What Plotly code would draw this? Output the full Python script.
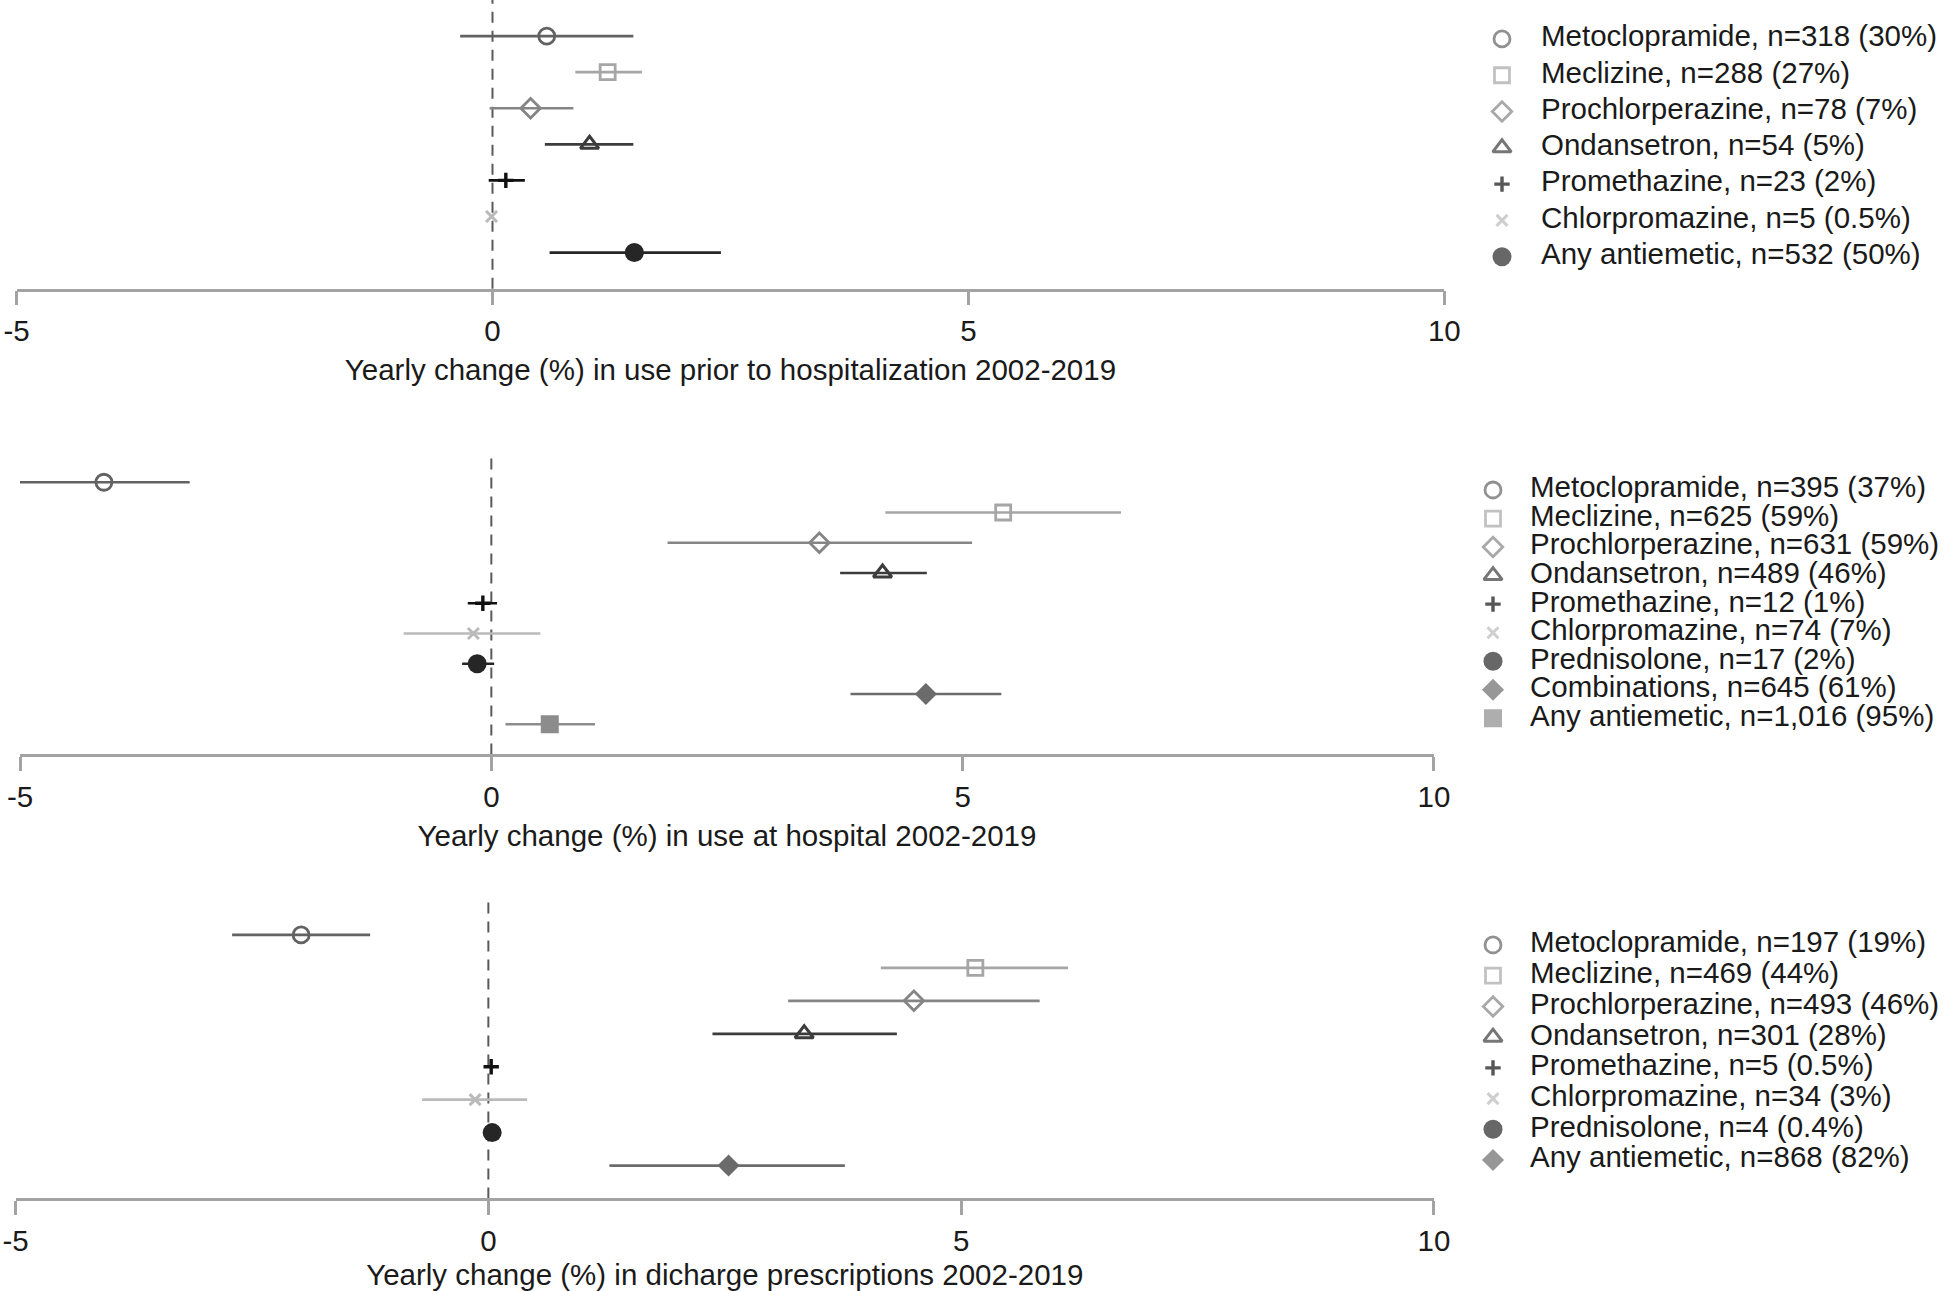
import plotly.graph_objects as go

FONT = "Liberation Sans, Arial, sans-serif"
W, H = 1944, 1291

# ---------------- data ----------------
tick_vals = [-5, 0, 5, 10]
tick_text = ["-5", "0", "5", "10"]

prior_title = "Yearly change (%) in use prior to hospitalization 2002-2019"
prior_labels = ["Metoclopramide, n=318 (30%)", "Meclizine, n=288 (27%)",
                "Prochlorperazine, n=78 (7%)", "Ondansetron, n=54 (5%)",
                "Promethazine, n=23 (2%)", "Chlorpromazine, n=5 (0.5%)",
                "Any antiemetic, n=532 (50%)"]
prior_est = [0.57, 1.21, 0.40, 1.02, 0.14, -0.01, 1.49]
prior_lo = [-0.34, 0.87, -0.03, 0.55, -0.04, -0.03, 0.60]
prior_hi = [1.48, 1.57, 0.85, 1.48, 0.34, 0.01, 2.40]

hosp_title = "Yearly change (%) in use at hospital 2002-2019"
hosp_labels = ["Metoclopramide, n=395 (37%)", "Meclizine, n=625 (59%)",
               "Prochlorperazine, n=631 (59%)", "Ondansetron, n=489 (46%)",
               "Promethazine, n=12 (1%)", "Chlorpromazine, n=74 (7%)",
               "Prednisolone, n=17 (2%)", "Combinations, n=645 (61%)",
               "Any antiemetic, n=1,016 (95%)"]
hosp_est = [-4.11, 5.43, 3.48, 4.15, -0.09, -0.19, -0.15, 4.61, 0.62]
hosp_lo = [-5.03, 4.18, 1.87, 3.70, -0.25, -0.93, -0.31, 3.81, 0.15]
hosp_hi = [-3.20, 6.68, 5.10, 4.62, 0.06, 0.52, 0.03, 5.41, 1.10]

dis_title = "Yearly change (%) in dicharge prescriptions 2002-2019"
dis_labels = ["Metoclopramide, n=197 (19%)", "Meclizine, n=469 (44%)",
              "Prochlorperazine, n=493 (46%)", "Ondansetron, n=301 (28%)",
              "Promethazine, n=5 (0.5%)", "Chlorpromazine, n=34 (3%)",
              "Prednisolone, n=4 (0.4%)", "Any antiemetic, n=868 (82%)"]
dis_est = [-1.98, 5.15, 4.50, 3.34, 0.03, -0.14, 0.04, 2.54]
dis_lo = [-2.71, 4.15, 3.17, 2.37, 0.01, -0.70, 0.04, 1.28]
dis_hi = [-1.25, 6.13, 5.83, 4.32, 0.05, 0.41, 0.04, 3.77]

# ---------------- styles ----------------
STY = {
    "Metoclopramide": ("circle-open", "#626262", 16, 2.8),
    "Meclizine": ("square-open", "#a6a6a6", 15, 2.8),
    "Prochlorperazine": ("diamond-open", "#858585", 15, 2.8),
    "Ondansetron": ("triangle-up-open", "#3c3c3c", 16, 3),
    "Promethazine": ("cross-thin", "#111111", 11, 3.4),
    "Chlorpromazine": ("x-thin", "#bababa", 11, 3),
    "Prednisolone": ("circle", "#262626", 19, 0),
    "Combinations": ("diamond", "#6b6b6b", 17, 0),
}
ANY_STY = [("circle", "#262626", 19, 0),
           ("square", "#8c8c8c", 18, 0),
           ("diamond", "#6b6b6b", 17, 0)]

panels = [
    dict(title=prior_title, labels=prior_labels, est=prior_est, lo=prior_lo, hi=prior_hi,
         xdom=[0.00854, 0.74295], ydom=[0.7764, 1.0], lgdom=[0.7871, 0.9839],
         lgx=(1502, 1541), standoff=14),
    dict(title=hosp_title, labels=hosp_labels, est=hosp_est, lo=hosp_lo, hi=hosp_hi,
         xdom=[0.01029, 0.73765], ydom=[0.41557, 0.64988], lgdom=[0.43253, 0.63152],
         lgx=(1493, 1530), standoff=14),
    dict(title=dis_title, labels=dis_labels, est=dis_est, lo=dis_lo, hi=dis_hi,
         xdom=[0.0080, 0.73765], ydom=[0.07165, 0.30132], lgdom=[0.08954, 0.27993],
         lgx=(1493, 1530), standoff=12),
]

fig = go.Figure()
layout = dict(width=W, height=H, margin=dict(l=0, r=0, t=0, b=0, autoexpand=False),
              paper_bgcolor="white", plot_bgcolor="rgba(0,0,0,0)",
              showlegend=False, font=dict(family=FONT, size=29.5, color="#1a1a1a"))
shapes = []

for i, p in enumerate(panels):
    k = i + 1
    xa, ya = ("x", "y") if k == 1 else (f"x{k}", f"y{k}")
    lk = k + 3
    lxa, lya = f"x{lk}", f"y{lk}"
    n = len(p["labels"])
    syms, cols, sizes, lws = [], [], [], []
    for j, lab in enumerate(p["labels"]):
        name = lab.split(",")[0]
        s = ANY_STY[i] if name == "Any antiemetic" else STY[name]
        syms.append(s[0]); cols.append(s[1]); sizes.append(s[2]); lws.append(s[3])
        est, lo, hi = p["est"][j], p["lo"][j], p["hi"][j]
        fig.add_trace(go.Scatter(
            x=[est], y=[j + 1], mode="markers", xaxis=xa, yaxis=ya,
            marker=dict(symbol=s[0], color=s[1], size=s[2],
                        line=dict(color=s[1], width=s[3])),
            error_x=dict(type="data", symmetric=False, array=[hi - est],
                         arrayminus=[est - lo], color=s[1], thickness=2.7, width=0),
            hoverinfo="x+name", name=name))
    # legend (drawn as markers + text on a helper axis)
    fig.add_trace(go.Scatter(
        x=[p["lgx"][0]] * n, y=list(range(n)), mode="markers", xaxis=lxa, yaxis=lya,
        marker=dict(symbol=syms, color=cols, size=sizes,
                    line=dict(color=cols, width=lws)), hoverinfo="skip"))
    fig.add_trace(go.Scatter(
        x=[p["lgx"][1]] * n, y=list(range(n)), mode="text", xaxis=lxa, yaxis=lya,
        text=p["labels"], textposition="middle right",
        textfont=dict(family=FONT, size=29.5, color="#1a1a1a"), hoverinfo="skip"))

    xkey = "xaxis" if k == 1 else f"xaxis{k}"
    ykey = "yaxis" if k == 1 else f"yaxis{k}"
    layout[xkey] = dict(domain=p["xdom"], anchor=ya, range=[-5, 10], automargin=False,
                        tickvals=tick_vals, ticktext=tick_text,
                        showline=True, linecolor="#a3a3a3", linewidth=2.5,
                        ticks="outside", ticklen=14, tickwidth=2.5, tickcolor="#a3a3a3",
                        showgrid=False, zeroline=False,
                        tickfont=dict(family=FONT, size=29.5, color="#1a1a1a"),
                        title=dict(text=p["title"], standoff=p["standoff"],
                                   font=dict(family=FONT, size=29.5, color="#1a1a1a")))
    layout[ykey] = dict(domain=p["ydom"], anchor=xa, range=[n + 1, 0], automargin=False,
                        visible=False, showgrid=False, zeroline=False)
    layout[f"xaxis{lk}"] = dict(domain=[0.75, 1.0], range=[1458, 1944], anchor=lya,
                                automargin=False, visible=False, showgrid=False,
                                zeroline=False)
    layout[f"yaxis{lk}"] = dict(domain=p["lgdom"], range=[n - 0.5, -0.5], anchor=lxa,
                                automargin=False, visible=False, showgrid=False,
                                zeroline=False)
    shapes.append(dict(type="line", xref=xa, yref=f"{ya} domain", x0=0, x1=0, y0=0, y1=1,
                       line=dict(color="#5a5a5a", width=2, dash="11px,8px"), layer="below"))

layout["shapes"] = shapes
fig.update_layout(**layout)
fig.write_html("out.html", config={"displayModeBar": False},
               post_script="document.body.style.margin='0px';document.body.style.overflow='hidden';")
